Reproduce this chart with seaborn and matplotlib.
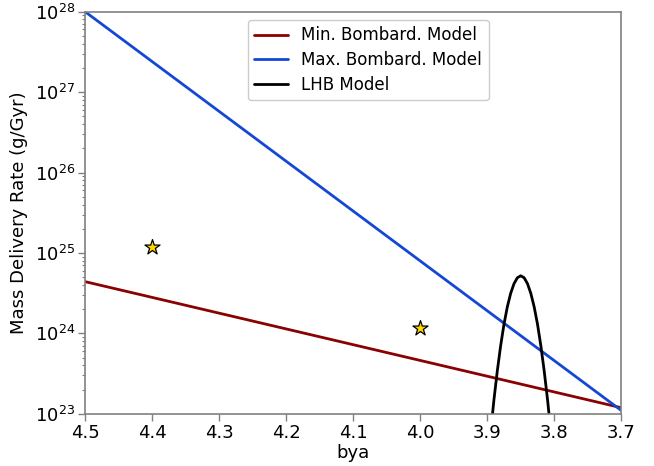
import numpy as np
import pandas as pd
import matplotlib
matplotlib.use("Agg")
import matplotlib.pyplot as plt
import seaborn as sns

# Data
bombard_bya = [4.5, 3.7]
min_model = [4.4e24, 1.19e23]
max_model = [1.0e28, 1.1e23]

lhb_bya = [3.90, 3.895, 3.89, 3.885, 3.88, 3.875, 3.87, 3.865, 3.86, 3.855, 3.85,
           3.845, 3.84, 3.835, 3.83, 3.825, 3.82, 3.815, 3.81, 3.805, 3.80]
lhb_rate = [2.0e22, 5.8e22, 1.49e23, 3.4e23, 7.0e23, 1.30e24, 2.14e24, 3.15e24, 4.16e24, 4.92e24, 5.2e24,
            4.92e24, 4.16e24, 3.15e24, 2.14e24, 1.30e24, 7.0e23, 3.4e23, 1.49e23, 5.8e22, 2.0e22]

star_bya = [4.4, 4.0]
star_rate = [1.17e25, 1.15e24]

sns.set_style("white")
plt.rcParams['font.family'] = ['DejaVu Sans']
plt.rcParams['text.color'] = 'black'
plt.rcParams['axes.labelcolor'] = 'black'
plt.rcParams['xtick.color'] = 'black'
plt.rcParams['ytick.color'] = 'black'

fig, ax = plt.subplots(figsize=(6.54, 4.66), dpi=100)

df_min = pd.DataFrame({"bya": bombard_bya, "rate": min_model})
df_max = pd.DataFrame({"bya": bombard_bya, "rate": max_model})
df_lhb = pd.DataFrame({"bya": lhb_bya, "rate": lhb_rate})

sns.lineplot(data=df_min, x="bya", y="rate", ax=ax, color="#8b0000", lw=2, label="Min. Bombard. Model")
sns.lineplot(data=df_max, x="bya", y="rate", ax=ax, color="#1447d6", lw=2, label="Max. Bombard. Model")
sns.lineplot(data=df_lhb, x="bya", y="rate", ax=ax, color="black", lw=2, label="LHB Model", sort=False)
ax.scatter(star_bya, star_rate, marker="*", s=130, color="#ffd700", edgecolor="black", linewidth=0.9, zorder=5)

ax.set_yscale("log")
ax.set_xlim(4.5, 3.7)
ax.set_ylim(1e23, 1e28)
ax.set_xticks([4.5, 4.4, 4.3, 4.2, 4.1, 4.0, 3.9, 3.8, 3.7])
ax.set_xticklabels(["4.5", "4.4", "4.3", "4.2", "4.1", "4.0", "3.9", "3.8", "3.7"])
ax.set_xlabel("bya", fontsize=13, labelpad=2)
ax.set_ylabel("Mass Delivery Rate (g/Gyr)", fontsize=13, labelpad=5)

for s in ax.spines.values():
    s.set_color("#808080")
    s.set_linewidth(1.2)
ax.tick_params(axis="both", which="major", direction="out", length=5, width=1, color="#808080",
               labelcolor="black", labelsize=13, pad=2)
ax.tick_params(axis="y", which="minor", direction="out", length=2.5, width=0.8, color="#808080", left=True)
ax.tick_params(axis="x", which="major", bottom=True)
ax.tick_params(axis="y", which="major", left=True)

leg = ax.legend(loc="upper center", fontsize=12, frameon=True, framealpha=1, edgecolor="#cccccc",
                bbox_to_anchor=(0.528, 0.980), borderaxespad=0, labelspacing=0.4, borderpad=0.4)
for t in leg.get_texts():
    t.set_color("black")

fig.subplots_adjust(left=0.13, right=0.95, top=0.975, bottom=0.112)
fig.savefig("out.png", dpi=100)
